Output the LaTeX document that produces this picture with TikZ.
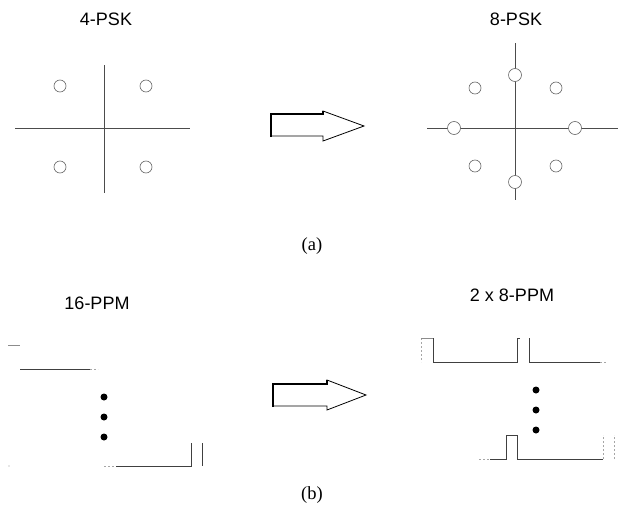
\documentclass[tikz,border=0pt]{standalone}
\usepackage{fontspec}
\setmainfont{Liberation Serif}
\setsansfont{Liberation Sans}
\begin{document}
\begin{tikzpicture}[x=1pt,y=-1pt,
  lbltxt/.style={font=\sffamily\fontsize{18}{21}\selectfont, inner sep=0pt},
  captxt/.style={font=\rmfamily\fontsize{18.5}{21}\selectfont, inner sep=0pt},
  axisline/.style={draw=black!70, line width=0.8pt},
  cpt/.style={circle, draw=black!60, line width=0.6pt, minimum size=12pt, inner sep=0pt, fill=white},
  bigcpt/.style={cpt, minimum size=13pt},
  bigdot/.style={circle, fill=black, minimum size=7pt, inner sep=0pt},
  sigline/.style={draw=black!75, line width=0.8pt},
  faintline/.style={draw=black!35, line width=0.7pt, dash pattern=on 2pt off 2pt},
  blockarrow/.style={draw=black, line width=0.8pt, fill=white},
  thickedge/.style={draw=black, line width=2.8pt}
]
\useasboundingbox (0,0) rectangle (621,506);

% ---------- (a) ----------
\node[lbltxt] (l4psk) at (106,19) {4-PSK};
\node[lbltxt] (l8psk) at (516,19) {8-PSK};

% 4-PSK constellation
\draw[axisline] (15,128) -- (190,128);
\draw[axisline] (104,65) -- (104,193);
\node[cpt] (q1) at (60,86) {};
\node[cpt] (q2) at (146,86) {};
\node[cpt] (q3) at (60,167) {};
\node[cpt] (q4) at (146,167) {};

% 8-PSK constellation
\draw[axisline] (427,128) -- (618,128);
\draw[axisline] (515,43) -- (515,200);
\node[bigcpt] (e1) at (515,75) {};
\node[bigcpt] (e2) at (515,182) {};
\node[bigcpt] (e3) at (454,128) {};
\node[bigcpt] (e4) at (575,128) {};
\node[cpt] (e5) at (475,88) {};
\node[cpt] (e6) at (556,88) {};
\node[cpt] (e7) at (475,166) {};
\node[cpt] (e8) at (556,166) {};

% block arrow (a)
\draw[blockarrow] (271,114) -- (323,114) -- (323,111) -- (364,126) -- (323,141) -- (323,136) -- (271,136) -- cycle;
\draw[thickedge] (271,137) -- (271,114) -- (323,114) -- (323,111);

\node[captxt] (capa) at (312,246) {(a)};

% ---------- (b) ----------
\node[lbltxt] (l16) at (97,303) {16-PPM};
\node[lbltxt] (l28) at (512,295) {2 x 8-PPM};

% 16-PPM
\draw[draw=black!45, line width=0.9pt] (8,345) -- (20,345);
\draw[sigline] (20,369) -- (90,369);
\draw[faintline] (90,369) -- (98,369);
\node[bigdot] (d1) at (104,397) {};
\node[bigdot] (d2) at (104,417) {};
\node[bigdot] (d3) at (104,437) {};
\draw[faintline] (104,466) -- (116,466);
\draw[sigline] (116,466) -- (191,466) -- (191,443);
\draw[sigline] (202,443) -- (202,466);
\fill[black!40] (9,466) circle (0.6pt);

% 2 x 8-PPM, top
\draw[faintline] (421,338) -- (421,362);
\draw[draw=black!45, line width=0.9pt] (421,338) -- (433,338);
\draw[sigline] (433,338) -- (433,362) -- (517,362) -- (517,338) -- (520,338);
\draw[sigline] (529,338) -- (529,362) -- (600,362);
\draw[faintline] (600,362) -- (607,362);
\node[bigdot] (d4) at (536,390) {};
\node[bigdot] (d5) at (536,410) {};
\node[bigdot] (d6) at (536,430) {};

% 2 x 8-PPM, bottom
\draw[faintline] (479,459) -- (490,459);
\draw[sigline] (490,459) -- (506,459) -- (506,435) -- (517,435) -- (517,459) -- (603,459);
\draw[faintline] (603,459) -- (603,435);
\draw[faintline] (614,459) -- (614,435);

% block arrow (b)
\draw[blockarrow] (273,384) -- (327,384) -- (327,380) -- (366,395) -- (327,410) -- (327,406) -- (273,406) -- cycle;
\draw[thickedge] (273,407) -- (273,384) -- (327,384) -- (327,380);

\node[captxt] (capb) at (312,495) {(b)};
\end{tikzpicture}
\end{document}
